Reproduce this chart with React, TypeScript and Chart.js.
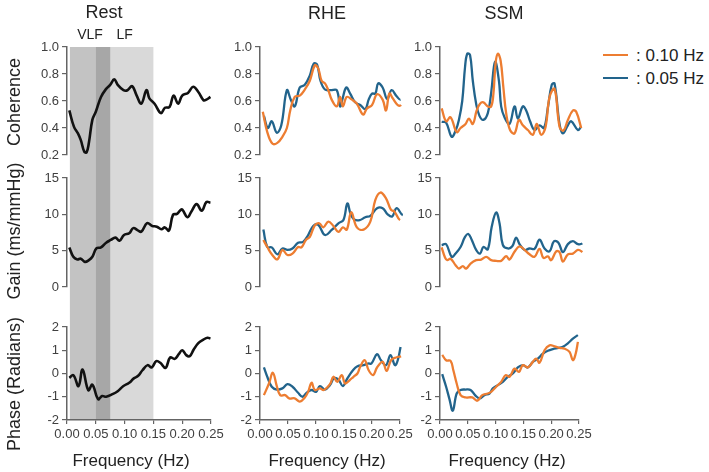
import { useEffect, useRef } from "react";
import { Chart, registerables } from "chart.js";

Chart.register(...registerables);

// ---------- data (frequency in Hz, one array per series) ----------

// Rest
const restCoherenceHz = [0.004, 0.012, 0.019, 0.024, 0.030, 0.034, 0.038, 0.044, 0.050, 0.059, 0.068, 0.075, 0.082, 0.088, 0.098, 0.105, 0.113, 0.121, 0.129, 0.138, 0.143, 0.152, 0.163, 0.170, 0.178, 0.185, 0.193, 0.200, 0.210, 0.219, 0.228, 0.237, 0.242, 0.249];
const restCoherence = [0.53, 0.41, 0.36, 0.31, 0.225, 0.22, 0.29, 0.46, 0.52, 0.63, 0.69, 0.72, 0.76, 0.72, 0.68, 0.68, 0.71, 0.64, 0.58, 0.68, 0.62, 0.58, 0.51, 0.55, 0.555, 0.64, 0.58, 0.64, 0.66, 0.705, 0.667, 0.606, 0.61, 0.63];

const restGainHz = [0.004, 0.011, 0.018, 0.024, 0.031, 0.038, 0.044, 0.051, 0.059, 0.068, 0.076, 0.084, 0.091, 0.099, 0.108, 0.115, 0.123, 0.129, 0.139, 0.148, 0.156, 0.164, 0.170, 0.177, 0.184, 0.191, 0.196, 0.200, 0.209, 0.216, 0.225, 0.234, 0.242, 0.249];
const restGain = [5.45, 4.16, 3.8, 3.9, 3.46, 3.7, 4.16, 5.3, 5.45, 6.1, 6.47, 6.8, 6.37, 7.16, 7.4, 8.1, 7.8, 7.6, 8.78, 8.4, 8.3, 7.95, 8.2, 7.76, 9.93, 10.07, 10.5, 10.67, 9.6, 10.4, 11.4, 10.5, 11.7, 11.6];

const restPhaseHz = [0.004, 0.011, 0.020, 0.027, 0.037, 0.044, 0.054, 0.061, 0.068, 0.079, 0.088, 0.098, 0.108, 0.116, 0.123, 0.131, 0.140, 0.147, 0.155, 0.162, 0.171, 0.179, 0.187, 0.194, 0.200, 0.207, 0.213, 0.220, 0.228, 0.237, 0.244, 0.249];
const restPhase = [-0.19, -0.07, -0.54, 0.17, -0.72, -0.48, -1.1, -0.97, -1.0, -0.89, -0.76, -0.54, -0.4, -0.21, -0.11, 0.14, 0.36, 0.26, 0.53, 0.46, 0.24, 0.69, 0.63, 0.83, 1.0, 0.79, 0.74, 1.03, 1.31, 1.46, 1.54, 1.5];

// RHE
const rheCoherence010Hz = [0.005, 0.013, 0.022, 0.031, 0.040, 0.048, 0.054, 0.062, 0.071, 0.080, 0.089, 0.098, 0.104, 0.110, 0.116, 0.122, 0.128, 0.137, 0.143, 0.148, 0.155, 0.164, 0.173, 0.184, 0.191, 0.200, 0.209, 0.219, 0.225, 0.231, 0.237, 0.246, 0.252, 0.258];
const rheCoherence010 = [0.52, 0.37, 0.285, 0.29, 0.335, 0.40, 0.53, 0.63, 0.64, 0.685, 0.75, 0.865, 0.84, 0.75, 0.73, 0.68, 0.61, 0.56, 0.63, 0.56, 0.63, 0.61, 0.58, 0.50, 0.545, 0.57, 0.65, 0.61, 0.53, 0.655, 0.62, 0.57, 0.57, 0.62];
const rheCoherence005Hz = [0.007, 0.014, 0.021, 0.030, 0.038, 0.048, 0.055, 0.062, 0.071, 0.080, 0.089, 0.096, 0.102, 0.108, 0.116, 0.126, 0.137, 0.143, 0.147, 0.154, 0.161, 0.170, 0.179, 0.188, 0.194, 0.200, 0.206, 0.211, 0.219, 0.227, 0.235, 0.244, 0.251, 0.258];
const rheCoherence005 = [0.49, 0.40, 0.45, 0.365, 0.42, 0.68, 0.61, 0.56, 0.70, 0.72, 0.79, 0.877, 0.87, 0.75, 0.685, 0.68, 0.68, 0.56, 0.61, 0.70, 0.655, 0.59, 0.57, 0.54, 0.61, 0.655, 0.655, 0.73, 0.70, 0.615, 0.68, 0.635, 0.61, 0.655];

const rheGain010Hz = [0.006, 0.013, 0.022, 0.031, 0.040, 0.049, 0.058, 0.068, 0.074, 0.082, 0.089, 0.098, 0.106, 0.113, 0.122, 0.131, 0.140, 0.148, 0.155, 0.163, 0.173, 0.185, 0.197, 0.206, 0.215, 0.225, 0.234, 0.240, 0.250, 0.258, 0.264];
const rheGain010 = [6.46, 5.5, 4.4, 3.8, 5.1, 4.4, 4.6, 5.5, 5.45, 6.46, 6.9, 8.5, 8.77, 8.2, 9.0, 8.4, 7.6, 8.2, 7.9, 10.3, 8.2, 7.9, 9.0, 12.0, 13.0, 12.2, 10.6, 10.4, 9.2, 9.5, 10.4];
const rheGain005Hz = [0.006, 0.013, 0.021, 0.031, 0.040, 0.049, 0.058, 0.068, 0.077, 0.086, 0.095, 0.104, 0.116, 0.128, 0.140, 0.149, 0.156, 0.162, 0.168, 0.178, 0.188, 0.197, 0.209, 0.219, 0.228, 0.236, 0.244, 0.255, 0.264];
const rheGain005 = [7.9, 5.5, 5.45, 4.5, 5.3, 5.1, 5.3, 6.1, 6.2, 7.15, 8.4, 8.55, 7.15, 7.85, 8.77, 9.23, 11.5, 10.0, 9.3, 9.2, 9.6, 9.8, 10.85, 10.85, 10.0, 9.7, 10.85, 9.9, 10.4];

const rhePhase010Hz = [0.007, 0.016, 0.023, 0.030, 0.036, 0.045, 0.052, 0.062, 0.071, 0.080, 0.086, 0.092, 0.098, 0.107, 0.114, 0.125, 0.131, 0.138, 0.146, 0.152, 0.160, 0.167, 0.174, 0.179, 0.187, 0.194, 0.202, 0.209, 0.219, 0.226, 0.234, 0.243, 0.252];
const rhePhase010 = [-0.93, -0.43, 0.03, -0.54, -0.93, -0.93, -1.07, -1.07, -1.21, -1.03, -0.79, -0.4, -0.71, -0.64, -0.71, -0.46, -0.14, -0.36, -0.07, -0.43, -0.29, -0.14, 0, 0.29, 0.57, 0.14, -0.07, 0.26, 0.5, 0.11, 0.57, 0.69, 0.74];
const rhePhase005Hz = [0.007, 0.013, 0.021, 0.030, 0.040, 0.049, 0.058, 0.068, 0.076, 0.083, 0.092, 0.100, 0.107, 0.116, 0.125, 0.132, 0.140, 0.148, 0.156, 0.166, 0.174, 0.185, 0.193, 0.199, 0.209, 0.216, 0.225, 0.233, 0.241, 0.246, 0.251];
const rhePhase005 = [0.26, -0.14, -0.57, -0.69, -0.64, -0.46, -0.57, -0.83, -1.0, -0.83, -0.71, -0.79, -0.54, -0.69, -0.5, -0.21, -0.26, -0.54, -0.21, 0.14, 0.31, 0.36, 0.43, 0.43, 0.83, 0.57, 0.36, 0.79, 0.36, 0.57, 1.14];

// SSM
const ssmCoherence010Hz = [0.003, 0.011, 0.019, 0.030, 0.037, 0.046, 0.052, 0.059, 0.066, 0.072, 0.078, 0.086, 0.092, 0.096, 0.100, 0.104, 0.109, 0.114, 0.119, 0.126, 0.134, 0.142, 0.149, 0.158, 0.167, 0.174, 0.182, 0.190, 0.197, 0.206, 0.215, 0.222, 0.230, 0.239, 0.245, 0.254];
const ssmCoherence010 = [0.545, 0.45, 0.48, 0.37, 0.40, 0.43, 0.47, 0.43, 0.53, 0.58, 0.59, 0.56, 0.56, 0.65, 0.88, 0.95, 0.90, 0.70, 0.51, 0.385, 0.36, 0.46, 0.42, 0.385, 0.35, 0.43, 0.35, 0.41, 0.63, 0.69, 0.41, 0.38, 0.46, 0.53, 0.52, 0.40];
const ssmCoherence005Hz = [0.003, 0.011, 0.021, 0.028, 0.034, 0.040, 0.045, 0.049, 0.054, 0.059, 0.065, 0.071, 0.078, 0.086, 0.092, 0.099, 0.106, 0.110, 0.116, 0.125, 0.134, 0.140, 0.149, 0.155, 0.162, 0.170, 0.179, 0.187, 0.194, 0.201, 0.206, 0.215, 0.221, 0.230, 0.236, 0.248, 0.254];
const ssmCoherence005 = [0.446, 0.44, 0.335, 0.38, 0.46, 0.6, 0.85, 0.95, 0.94, 0.75, 0.58, 0.49, 0.46, 0.51, 0.66, 0.89, 0.75, 0.56, 0.48, 0.43, 0.56, 0.47, 0.56, 0.53, 0.45, 0.385, 0.42, 0.40, 0.55, 0.72, 0.73, 0.43, 0.36, 0.42, 0.45, 0.385, 0.41];

const ssmGain010Hz = [0.003, 0.009, 0.013, 0.019, 0.028, 0.034, 0.041, 0.047, 0.055, 0.065, 0.074, 0.083, 0.092, 0.101, 0.110, 0.119, 0.125, 0.134, 0.143, 0.152, 0.161, 0.170, 0.179, 0.186, 0.194, 0.200, 0.209, 0.215, 0.221, 0.230, 0.239, 0.248, 0.256, 0.263];
const ssmGain010 = [5.45, 4.06, 3.7, 3.9, 3.0, 2.54, 2.86, 2.54, 3.23, 3.7, 3.78, 4.15, 3.7, 3.6, 3.6, 4.25, 3.78, 4.85, 5.6, 5.1, 4.5, 4.15, 5.25, 4.0, 4.2, 3.7, 4.9, 4.8, 3.5, 4.5, 4.6, 5.1, 4.8, 4.2];
const ssmGain005Hz = [0.003, 0.011, 0.021, 0.028, 0.037, 0.045, 0.051, 0.057, 0.065, 0.072, 0.078, 0.086, 0.093, 0.101, 0.107, 0.113, 0.122, 0.130, 0.137, 0.143, 0.152, 0.161, 0.170, 0.179, 0.188, 0.197, 0.205, 0.213, 0.221, 0.230, 0.239, 0.248, 0.256, 0.263];
const ssmGain005 = [5.77, 5.9, 4.15, 4.6, 5.5, 6.9, 7.3, 6.5, 5.1, 4.6, 5.5, 5.2, 8.3, 10.25, 8.8, 5.8, 5.3, 5.6, 6.8, 5.9, 5.1, 5.3, 5.25, 6.5, 5.3, 4.9, 6.3, 6.1, 4.8, 5.9, 6.3, 5.9, 6.0, 6.7];

const ssmPhase010Hz = [0.004, 0.011, 0.019, 0.024, 0.030, 0.037, 0.046, 0.058, 0.067, 0.076, 0.086, 0.092, 0.101, 0.110, 0.118, 0.125, 0.134, 0.142, 0.149, 0.158, 0.167, 0.173, 0.179, 0.188, 0.197, 0.206, 0.215, 0.224, 0.233, 0.239, 0.244, 0.248];
const ssmPhase010 = [0.8, 0.57, 0.54, 0.14, -0.43, -0.93, -1.03, -1.03, -1.17, -0.93, -0.86, -0.79, -0.57, -0.36, -0.07, -0.14, 0.21, 0.07, 0.36, 0.26, 0.5, 0.64, 0.46, 1.0, 1.21, 1.17, 1.1, 1.07, 0.93, 0.57, 0.85, 1.36];
const ssmPhase005Hz = [0.004, 0.011, 0.017, 0.023, 0.030, 0.037, 0.046, 0.055, 0.063, 0.071, 0.080, 0.089, 0.095, 0.104, 0.113, 0.122, 0.131, 0.140, 0.149, 0.158, 0.167, 0.176, 0.185, 0.194, 0.203, 0.213, 0.221, 0.230, 0.239, 0.248];
const ssmPhase005 = [-0.03, -0.57, -1.1, -1.6, -0.86, -0.71, -0.69, -0.71, -0.93, -1.07, -0.93, -0.86, -0.64, -0.5, -0.36, -0.14, 0, 0.26, 0.36, 0.26, 0.5, 0.64, 0.85, 0.98, 1.05, 1.1, 1.15, 1.3, 1.5, 1.65];

// frequency bands shaded in the Rest column
const BAND_NAMES = ["VLF", "LF"];
const VLF_BAND = [0.005, 0.075];
const LF_BAND = [0.05, 0.15];

const CONDITIONS = ["Rest", "RHE", "SSM"];
const MEASURES = ["Coherence", "Gain (ms/mmHg)", "Phase (Radians)"];
const LEGEND_LABELS = [": 0.10 Hz", ": 0.05 Hz"];

// ---------- styling / layout ----------
const FONT = '"Liberation Sans", Arial, Helvetica, sans-serif';
const TEXT_COLOR = "#222222";
const TICK_COLOR = "#404040";
const AXIS_COLOR = "#646464";
const ORANGE = "#ed7d31";
const BLUE = "#22648c";
const BLACK = "#111111";
const VLF_COLOR = "#c3c3c3";
const LF_COLOR = "#d9d9d9";
const OVERLAP_COLOR = "#a7a7a7";
const TICK_SIZE = 13;

const COLUMNS = [
  { axisX: 67, plotWidth: 144, labelWidth: 67 },
  { axisX: 260, plotWidth: 140, labelWidth: 44 },
  { axisX: 440, plotWidth: 139, labelWidth: 44 },
];
const RIGHT_ROOM = 18;
const ROWS = [
  { top: 0, height: 166, padTop: 47, padBottom: 11 },
  { top: 166, height: 132, padTop: 12, padBottom: 11 },
  { top: 298, height: 174, padTop: 29, padBottom: 0 },
];
const X_AXIS_HEIGHT = 52;
const Y_RANGES = [
  { min: 0.2, max: 1, step: 0.2 },
  { min: 0, max: 15, step: 5 },
  { min: -2, max: 2, step: 1 },
];

type Series = { hz: number[]; values: number[]; color: string; width: number };

const line = (hz: number[], values: number[], color: string, width = 2.3): Series => ({ hz, values, color, width });

// rows: coherence, gain, phase; columns: Rest, RHE, SSM
const PANEL_SERIES: Series[][][] = [
  [
    [line(restCoherenceHz, restCoherence, BLACK, 2.6)],
    [line(rheCoherence010Hz, rheCoherence010, ORANGE), line(rheCoherence005Hz, rheCoherence005, BLUE)],
    [line(ssmCoherence010Hz, ssmCoherence010, ORANGE), line(ssmCoherence005Hz, ssmCoherence005, BLUE)],
  ],
  [
    [line(restGainHz, restGain, BLACK, 2.6)],
    [line(rheGain010Hz, rheGain010, ORANGE), line(rheGain005Hz, rheGain005, BLUE)],
    [line(ssmGain010Hz, ssmGain010, ORANGE), line(ssmGain005Hz, ssmGain005, BLUE)],
  ],
  [
    [line(restPhaseHz, restPhase, BLACK, 2.6)],
    [line(rhePhase010Hz, rhePhase010, ORANGE), line(rhePhase005Hz, rhePhase005, BLUE)],
    [line(ssmPhase010Hz, ssmPhase010, ORANGE), line(ssmPhase005Hz, ssmPhase005, BLUE)],
  ],
];

// Shades the VLF / LF bands across the whole Rest column.
const bandPlugin = {
  id: "bands",
  beforeDraw(chart: any, _args: any, opts: any) {
    const { ctx, chartArea } = chart;
    const xs = chart.scales.x;
    const top = opts.fromArea ? chartArea.top : 0;
    const bottom = opts.toArea ? chartArea.bottom : chart.height;
    const rect = (a: number, b: number, color: string) => {
      const x0 = xs.getPixelForValue(a);
      const x1 = xs.getPixelForValue(b);
      ctx.fillStyle = color;
      ctx.fillRect(x0, top, x1 - x0, bottom - top);
    };
    ctx.save();
    rect(VLF_BAND[0], VLF_BAND[1], VLF_COLOR);
    rect(LF_BAND[0], LF_BAND[1], LF_COLOR);
    rect(Math.max(VLF_BAND[0], LF_BAND[0]), Math.min(VLF_BAND[1], LF_BAND[1]), OVERLAP_COLOR);
    if (opts.labels) {
      ctx.fillStyle = TEXT_COLOR;
      ctx.font = `14px ${FONT}`;
      ctx.textAlign = "center";
      ctx.textBaseline = "middle";
      [VLF_BAND, LF_BAND].forEach((band, i) => {
        ctx.fillText(BAND_NAMES[i], xs.getPixelForValue((band[0] + band[1]) / 2), chartArea.top - 12);
      });
    }
    ctx.restore();
  },
};

function Panel({ row, col }: { row: number; col: number }) {
  const ref = useRef<HTMLCanvasElement | null>(null);
  const c = COLUMNS[col];
  const r = ROWS[row];
  const width = c.labelWidth + c.plotWidth + RIGHT_ROOM;
  const left = c.axisX - c.labelWidth;

  useEffect(() => {
    const canvas = ref.current;
    if (!canvas) return;
    const yr = Y_RANGES[row];
    const showX = row === 2;
    const shaded = col === 0;
    const chart = new Chart(canvas, {
      type: "line",
      data: {
        datasets: PANEL_SERIES[row][col].map((s) => ({
          data: s.hz.map((f, i) => ({ x: f, y: s.values[i] })),
          borderColor: s.color,
          borderWidth: s.width,
          pointRadius: 0,
          tension: 0.4,
          fill: false,
          clip: false as any,
        })),
      },
      plugins: shaded ? [bandPlugin] : [],
      options: {
        responsive: false,
        maintainAspectRatio: false,
        animation: false,
        devicePixelRatio: 1,
        events: [],
        layout: { padding: { top: r.padTop, bottom: r.padBottom, left: 0, right: RIGHT_ROOM } },
        plugins: {
          legend: { display: false },
          tooltip: { enabled: false },
          title: { display: false },
          bands: { fromArea: row === 0, toArea: row === 2, labels: row === 0 },
        } as any,
        scales: {
          x: {
            type: "linear",
            display: showX,
            min: 0,
            max: 0.25,
            afterFit: (scale: any) => {
              if (showX) scale.height = X_AXIS_HEIGHT;
            },
            border: { display: true, color: AXIS_COLOR, width: 1.5 },
            grid: { display: true, drawOnChartArea: false, drawTicks: true, tickLength: 4, color: AXIS_COLOR, lineWidth: 1.2 },
            ticks: {
              stepSize: 0.05,
              autoSkip: false,
              maxRotation: 0,
              padding: 3,
              color: TICK_COLOR,
              font: { size: TICK_SIZE, family: FONT },
              callback: (v: any) => Number(v).toFixed(2),
            },
          },
          y: {
            type: "linear",
            min: yr.min,
            max: yr.max,
            afterFit: (scale: any) => {
              scale.width = c.labelWidth;
            },
            border: { display: true, color: AXIS_COLOR, width: 1.5 },
            grid: { display: true, drawOnChartArea: false, drawTicks: true, tickLength: 5, color: AXIS_COLOR, lineWidth: 1.2 },
            ticks: {
              stepSize: yr.step,
              padding: 3,
              color: TICK_COLOR,
              font: { size: TICK_SIZE, family: FONT },
            },
          },
        },
      } as any,
    });
    return () => chart.destroy();
  }, [row, col]);

  return (
    <canvas
      ref={ref}
      width={width}
      height={r.height}
      style={{ position: "absolute", left, top: r.top, width, height: r.height }}
    />
  );
}

function Label({ x, y, text, size = 17, rotate = false }: { x: number; y: number; text: string; size?: number; rotate?: boolean }) {
  return (
    <div
      style={{
        position: "absolute",
        left: x,
        top: y,
        transform: `translate(-50%, -50%)${rotate ? " rotate(-90deg)" : ""}`,
        whiteSpace: "nowrap",
        fontFamily: FONT,
        fontSize: size,
        lineHeight: 1,
        color: TEXT_COLOR,
      }}
    >
      {text}
    </div>
  );
}

const TITLE_POS = [
  { x: 104, y: 12 },
  { x: 327, y: 13 },
  { x: 504, y: 13 },
];
const MEASURE_POS = [
  { x: 14, y: 102 },
  { x: 14, y: 231 },
  { x: 14, y: 384 },
];
const XTITLE_POS = [
  { x: 131, y: 460 },
  { x: 327, y: 460 },
  { x: 507, y: 460 },
];
const LEGEND_POS = [
  { x: 603, y: 55, color: ORANGE },
  { x: 603, y: 78, color: BLUE },
];

export default function App() {
  return (
    <div
      style={{
        position: "fixed",
        left: 0,
        top: 0,
        width: 709,
        height: 472,
        background: "#ffffff",
        overflow: "hidden",
      }}
    >
      {[0, 1, 2].map((row) => [0, 1, 2].map((col) => <Panel key={`${row}-${col}`} row={row} col={col} />))}
      {CONDITIONS.map((t, i) => (
        <Label key={t} x={TITLE_POS[i].x} y={TITLE_POS[i].y} text={t} size={18} />
      ))}
      {MEASURES.map((t, i) => (
        <Label key={t} x={MEASURE_POS[i].x} y={MEASURE_POS[i].y} text={t} size={18} rotate />
      ))}
      {XTITLE_POS.map((p, i) => (
        <Label key={`fx${i}`} x={p.x} y={p.y} text="Frequency (Hz)" />
      ))}
      {LEGEND_POS.map((p, i) => (
        <div key={`lg${i}`}>
          <div style={{ position: "absolute", left: p.x, top: p.y - 1.25, width: 25, height: 2.5, background: p.color }} />
          <div
            style={{
              position: "absolute",
              left: p.x + 33,
              top: p.y,
              transform: "translateY(-50%)",
              fontFamily: FONT,
              fontSize: 17,
              lineHeight: 1,
              color: TEXT_COLOR,
              whiteSpace: "nowrap",
            }}
          >
            {LEGEND_LABELS[i]}
          </div>
        </div>
      ))}
    </div>
  );
}
